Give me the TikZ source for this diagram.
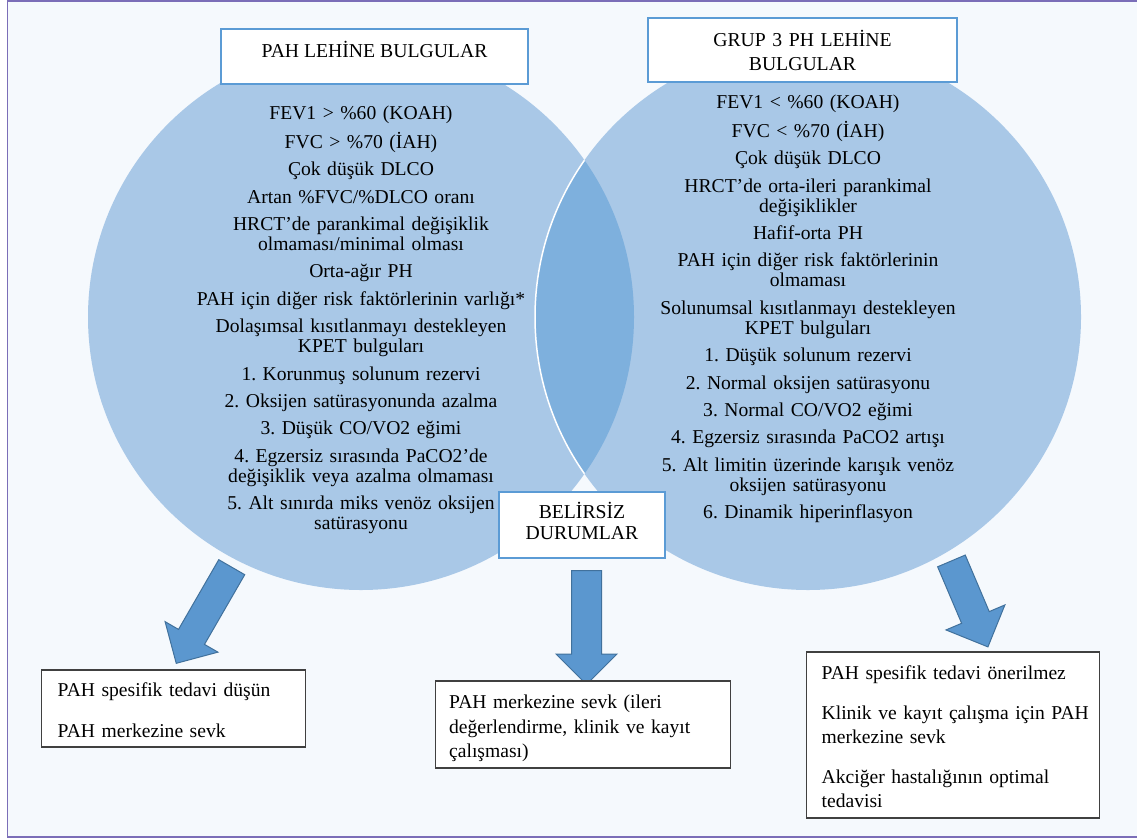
\documentclass[tikz,border=0pt]{standalone}
\usepackage{fontspec}
\setmainfont{Liberation Serif}
\usetikzlibrary{shapes.arrows}
\frenchspacing
\definecolor{pagebg}{HTML}{F5F9FD}
\definecolor{framecol}{HTML}{7B6EB8}
\definecolor{vennfill}{HTML}{A9C8E7}
\definecolor{lensfill}{HTML}{7EB0DD}
\definecolor{titleline}{HTML}{5B9BD5}
\definecolor{arrowfill}{HTML}{5B97CF}
\definecolor{arrowline}{HTML}{41719C}
\tikzset{
  venn/.style={circle, fill=vennfill, inner sep=0pt, minimum size=546pt},
  venntext/.style={font=\fontsize{19.6}{20}\selectfont, align=center, text width=440pt, inner sep=0pt, anchor=base},
  titlebox/.style={draw=titleline, line width=1.6pt, fill=white, inner sep=0pt, anchor=base, align=center, font=\fontsize{19.7}{24}\selectfont},
  resultbox/.style={draw=black!75, line width=1.3pt, fill=white, inner ysep=0pt, anchor=base west, align=left, font=\fontsize{19.6}{24}\selectfont},
  blockarrow/.style={single arrow, fill=arrowfill, draw=arrowline, line width=1pt, inner xsep=0pt, inner ysep=14.5pt, single arrow head extend=15.5pt, single arrow tip angle=90},
}
\begin{document}
\begin{tikzpicture}[x=1pt, y=-1pt]
  \useasboundingbox (0,0) rectangle (1137,838);
  \fill[white] (0,0) rectangle (1137,838);
  \draw[framecol, line width=1.8pt, fill=pagebg] (7.5,1) rectangle (1150,837);

  \node[venn] (pahcirc) at (361,317) {};
  \node[venn] (grupcirc) at (808,317) {};
  \begin{scope}
    \clip (pahcirc.center) circle[radius=273pt];
    \fill[lensfill] (grupcirc.center) circle[radius=273pt];
    \draw[white, line width=1.5pt] (grupcirc.center) circle[radius=273pt];
  \end{scope}

  \node[venntext] (pahlist) at (361,119.5) {FEV1 > \%60 (KOAH)\\[7.4pt]
    FVC > \%70 (İAH)\\[7.4pt]
    Çok düşük DLCO\\[7.4pt]
    Artan \%FVC/\%DLCO oranı\\[7.4pt]
    HRCT’de parankimal değişiklik\\ olmaması/minimal olması\\[7.4pt]
    Orta-ağır PH\\[7.4pt]
    PAH için diğer risk faktörlerinin varlığı*\\[7.4pt]
    Dolaşımsal kısıtlanmayı destekleyen\\ KPET bulguları\\[7.4pt]
    1. Korunmuş solunum rezervi\\[7.4pt]
    2. Oksijen satürasyonunda azalma\\[7.4pt]
    3. Düşük CO/VO2 eğimi\\[7.4pt]
    4. Egzersiz sırasında PaCO2’de\\ değişiklik veya azalma olmaması\\[7.4pt]
    5. Alt sınırda miks venöz oksijen\\ satürasyonu};
  \node[venntext] (gruplist) at (808,108.5) {FEV1 < \%60 (KOAH)\\[7.4pt]
    FVC < \%70 (İAH)\\[7.4pt]
    Çok düşük DLCO\\[7.4pt]
    HRCT’de orta-ileri parankimal\\ değişiklikler\\[7.4pt]
    Hafif-orta PH\\[7.4pt]
    PAH için diğer risk faktörlerinin\\ olmaması\\[7.4pt]
    Solunumsal kısıtlanmayı destekleyen\\ KPET bulguları\\[7.4pt]
    1. Düşük solunum rezervi\\[7.4pt]
    2. Normal oksijen satürasyonu\\[7.4pt]
    3. Normal CO/VO2 eğimi\\[7.4pt]
    4. Egzersiz sırasında PaCO2 artışı\\[7.4pt]
    5. Alt limitin üzerinde karışık venöz\\ oksijen satürasyonu\\[7.4pt]
    6. Dinamik hiperinflasyon};

  \node[titlebox, minimum width=307pt, text height=28pt, text depth=27pt] (pahtitle) at (374.5,57) {PAH LEHİNE BULGULAR};
  \node[titlebox, text width=309pt, text height=28pt, text depth=36pt] (gruptitle) at (802.5,46) {GRUP 3 PH LEHİNE\\ BULGULAR};
  \node[titlebox, text width=166pt, text height=26.5pt, text depth=39.5pt, font=\fontsize{19.7}{21}\selectfont] (belirsiz) at (582,518.5) {BELİRSİZ\\ DURUMLAR};

  \node[blockarrow, minimum height=111pt, rotate=240] (paharrow) at (207.75,608.75) {};
  \node[blockarrow, minimum height=114pt, rotate=-90] (belarrow) at (586.5,620) {};
  \node[blockarrow, minimum height=93.4pt, rotate=-67, single arrow head extend=17pt] (gruparrow) at (966.75,597) {};

  \node[resultbox, text width=232pt, inner xsep=16pt, text height=26.5pt, text depth=50.5pt] (pahresult) at (41,696.5) {PAH spesifik tedavi düşün\\[17pt] PAH merkezine sevk};
  \node[resultbox, text width=268pt, inner xsep=13.5pt, text height=27.5pt, text depth=59.5pt, font=\fontsize{19.6}{24.5}\selectfont] (belresult) at (435,708.5) {PAH merkezine sevk (ileri\\ değerlendirme, klinik ve kayıt\\ çalışması)};
  \node[resultbox, text width=263pt, inner xsep=15pt, text height=27.5pt, text depth=138.5pt] (grupresult) at (806,679.5) {PAH spesifik tedavi önerilmez\\[16pt] \mbox{Klinik ve kayıt çalışma için PAH}\\ merkezine sevk\\[16pt] Akciğer hastalığının optimal\\ tedavisi};
\end{tikzpicture}
\end{document}
